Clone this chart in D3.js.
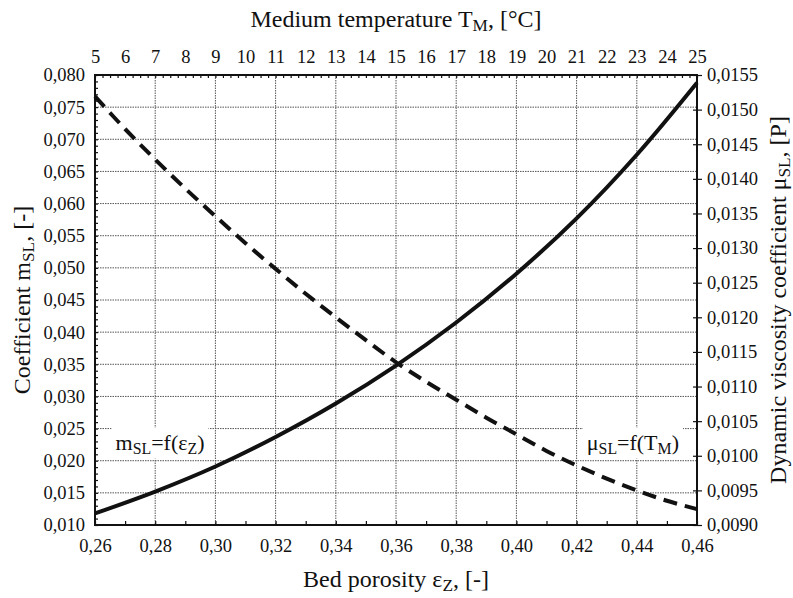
<!DOCTYPE html>
<meta charset="utf-8">
<head>
	<title>Porosity and viscosity</title>
</head>
<style>
	body { margin: 0; background: #fff; }
	svg text { font-family: "Liberation Serif", "Times New Roman", Times, "DejaVu Serif", "Noto Serif", Tinos, serif; fill: #111; }
	.grid line { stroke: #555; stroke-width: 1; stroke-dasharray: 1.5 1; }
</style>
<body>
<div id="wrapper"></div>
<script src="https://d3js.org/d3.v7.min.js"></script>
<script>

// bottom axis: bed porosity, solid curve
var porosity = [0.26, 0.28, 0.30, 0.32, 0.34, 0.36, 0.38, 0.40, 0.42, 0.44, 0.46];
var mSL = [0.0118, 0.0152, 0.0191, 0.0237, 0.0289, 0.0348, 0.0415, 0.0491, 0.0577, 0.0676, 0.0788];

// top axis: medium temperature, dashed curve
var tempC = [5, 6, 7, 8, 9, 10, 11, 12, 13, 14, 15, 16, 17, 18, 19, 20, 21, 22, 23, 24, 25];
var muSL = [0.01519, 0.01472, 0.01428, 0.01386, 0.01346, 0.01307, 0.01270, 0.01234, 0.01200, 0.01167,
	0.01135, 0.01107, 0.01081, 0.01055, 0.01031, 0.01007, 0.00986, 0.00967, 0.00950, 0.00935, 0.00923];

var leftTicks = d3.range(0.010, 0.0801, 0.005);
var rightTicks = d3.range(0.0090, 0.01551, 0.0005);
var bottomTicks = d3.range(0.26, 0.4601, 0.02);
var topTicks = d3.range(5, 26, 1);

var W = 793, H = 598;
var m = {left: 95, right: 96, top: 75, bottom: 73};
var iw = W - m.left - m.right, ih = H - m.top - m.bottom;

var x = d3.scaleLinear().domain([0.26, 0.46]).range([0, iw]);
var xT = d3.scaleLinear().domain([5, 25]).range([0, iw]);
var y = d3.scaleLinear().domain([0.010, 0.080]).range([ih, 0]);
var yR = d3.scaleLinear().domain([0.0090, 0.0155]).range([ih, 0]);

var comma = function(f) { return function(d) { return d3.format(f)(d).replace('.', ','); }; };

var svg = d3.select('#wrapper').append('svg').attr('width', W).attr('height', H);
var g = svg.append('g').attr('transform', 'translate(' + m.left + ',' + m.top + ')');

// grid
var grid = g.append('g').attr('class', 'grid');
grid.selectAll('.gx').data(bottomTicks.slice(1, -1)).enter().append('line')
	.attr('x1', function(d) { return x(d); }).attr('x2', function(d) { return x(d); })
	.attr('y1', 0).attr('y2', ih);
grid.selectAll('.gy').data(leftTicks.slice(1, -1)).enter().append('line')
	.attr('y1', function(d) { return y(d); }).attr('y2', function(d) { return y(d); })
	.attr('x1', 0).attr('x2', iw);

// axes
var fs = '18.5px';
var axB = g.append('g').attr('transform', 'translate(0,' + ih + ')')
	.call(d3.axisBottom(x).tickValues(d3.range(0.26, 0.4601, 0.01)).tickSize(-4).tickPadding(14)
		.tickFormat(function(d) { return Math.round(d * 100) % 2 === 0 ? comma('.2f')(d) : ''; }));
var axT = g.append('g')
	.call(d3.axisTop(xT).tickValues(d3.range(5, 25.01, 0.25)).tickSize(-3).tickPadding(12)
		.tickFormat(function(d) { return d % 1 === 0 ? d : ''; }));
var axL = g.append('g')
	.call(d3.axisLeft(y).tickValues(d3.range(0.010, 0.0801, 0.001)).tickSize(-3).tickPadding(10)
		.tickFormat(function(d) { return Math.round(d * 1000) % 5 === 0 ? comma('.3f')(d) : ''; }));
var axR = g.append('g').attr('transform', 'translate(' + iw + ',0)')
	.call(d3.axisRight(yR).tickValues(rightTicks).tickSize(5).tickPadding(5).tickFormat(comma('.4f')));
axR.selectAll('.tick line').attr('x1', -4);

[axB, axT, axL, axR].forEach(function(a) {
	a.attr('font-family', null);
	a.select('.domain').remove();
	a.selectAll('.tick line').attr('stroke', '#111').attr('stroke-width', 1.2);
	a.selectAll('.tick text').style('font-size', fs).attr('fill', '#111');
});

g.append('rect').attr('width', iw).attr('height', ih)
	.attr('fill', 'none').attr('stroke', '#111').attr('stroke-width', 2);

// curves
var lineM = d3.line().x(function(d, i) { return x(porosity[i]); }).y(function(d) { return y(d); }).curve(d3.curveCatmullRom);
var lineMu = d3.line().x(function(d, i) { return xT(tempC[i]); }).y(function(d) { return yR(d); }).curve(d3.curveCatmullRom);

g.append('path').attr('d', lineM(mSL)).attr('fill', 'none').attr('stroke', '#111').attr('stroke-width', 4);
g.append('path').attr('d', lineMu(muSL)).attr('fill', 'none').attr('stroke', '#111').attr('stroke-width', 4)
	.attr('stroke-dasharray', '14 8');

// text with subscripts
function sub(sel, parts) {
	parts.forEach(function(p) {
		var t = sel.append('tspan').text(p[0]);
		if (p[1]) t.style('font-size', '0.72em').attr('dy', '0.25em');
		else if (p[2]) t.attr('dy', '-0.18em');
	});
	return sel;
}

function label(xp, yp, parts) {
	var t = sub(g.append('text').attr('x', xp).attr('y', yp).attr('text-anchor', 'middle').style('font-size', '22px'), parts);
	var b = t.node().getBBox();
	g.insert('rect', function() { return t.node(); })
		.attr('x', b.x - 4).attr('y', b.y - 2).attr('width', b.width + 8).attr('height', b.height + 4).attr('fill', '#fff');
}
label(x(0.2816), y(0.0225) + 5, [['m'], ['SL', true], ['=f(ε', false, true], ['Z', true], [')', false, true]]);
label(x(0.4387), y(0.0225) + 5, [['μ'], ['SL', true], ['=f(T', false, true], ['M', true], [')', false, true]]);

// axis titles
sub(svg.append('text').attr('x', m.left + iw / 2).attr('y', 27).attr('text-anchor', 'middle').style('font-size', '24px'),
	[['Medium temperature T'], ['M', true], [', [°C]', false, true]]);
sub(svg.append('text').attr('x', m.left + iw / 2).attr('y', 587).attr('text-anchor', 'middle').style('font-size', '24px'),
	[['Bed porosity ε'], ['Z', true], [', [-]', false, true]]);
sub(svg.append('text').attr('transform', 'translate(30,' + (m.top + ih / 2) + ') rotate(-90)').attr('text-anchor', 'middle').style('font-size', '24px'),
	[['Coefficient m'], ['SL', true], [', [-]', false, true]]);
sub(svg.append('text').attr('transform', 'translate(786,' + (m.top + ih / 2) + ') rotate(-90)').attr('text-anchor', 'middle').style('font-size', '24px'),
	[['Dynamic viscosity coefficient μ'], ['SL', true], [', [P]', false, true]]);

</script>
</body>
